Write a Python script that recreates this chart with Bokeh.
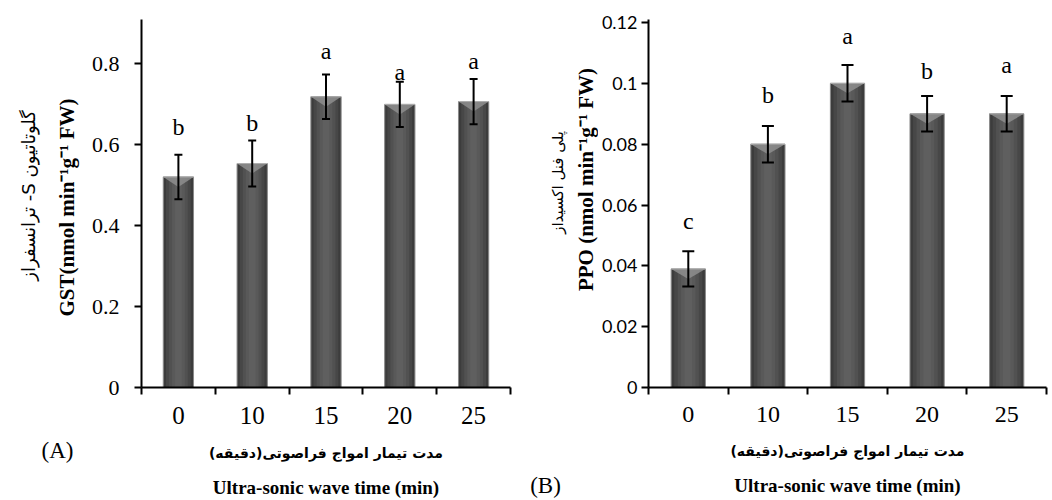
import math
from bokeh.plotting import figure
from bokeh.models import (ColumnDataSource, FixedTicker, LinearAxis, Range1d,
                          Whisker, TeeHead)
from bokeh.layouts import row
from bokeh.core.properties import value
from bokeh.embed import file_html
from bokeh.resources import INLINE

# ---------------- data ----------------
categories = ["0", "10", "15", "20", "25"]          # ultrasonic time (min)

gst = [0.520, 0.553, 0.718, 0.699, 0.706]
gst_err = [0.055, 0.057, 0.055, 0.056, 0.056]
gst_letters = ["b", "b", "a", "a", "a"]
gst_letter_y = [0.642, 0.654, 0.832, 0.778, 0.805]
gst_yticks = [0, 0.2, 0.4, 0.6, 0.8]
gst_ytick_labels = ["0", "0.2", "0.4", "0.6", "0.8"]

ppo = [0.039, 0.080, 0.100, 0.090, 0.090]
ppo_err = [0.0058, 0.006, 0.006, 0.0058, 0.0058]
ppo_letters = ["c", "b", "a", "b", "a"]
ppo_letter_y = [0.0549, 0.0963, 0.1157, 0.1039, 0.1059]
ppo_yticks = [0, 0.02, 0.04, 0.06, 0.08, 0.1, 0.12]
ppo_ytick_labels = ["0", "0.02", "0.04", "0.06", "0.08", "0.1", "0.12"]

x_title_fa = "مدت تیمار امواج فراصوتی(دقیقه)\u200f"
x_title_en = "Ultra-sonic wave time (min)"
gst_title_fa = "\u202bگلوتاتیون S- ترانسفراز\u202c"
gst_title_en = "GST(nmol min\u207b\u00b9g\u207b\u00b9 FW)"
ppo_title_fa = "پلی فنل اکسیداز"
ppo_title_en = "PPO (nmol min\u207b\u00b9g\u207b\u00b9 FW)"
panel_a = "(A)"
panel_b = "(B)"

SERIF = "Liberation Serif"
FA = "DejaVu Sans"
TOP = 19          # frame top (px) shared by all plots in the row
BOTTOM = 113      # space below the frames (px)
FRAME_BOTTOM = 500 - BOTTOM


def make_panel(vals, errs, letters, letter_y, y_end, yticks, ytick_labels,
               width, border_left, border_right,
               bar_w, head, ytick_font, ytick_size, ytick_standoff,
               xtick_size):
    n = len(categories)
    idx = list(range(n))
    bounds = [i - 0.5 for i in range(n + 1)]
    plot_h_px = FRAME_BOTTOM - TOP
    p = figure(width=width, height=500,
               x_range=Range1d(-0.5, n - 0.5), y_range=Range1d(0, y_end),
               output_backend="svg", toolbar_location=None,
               min_border_left=border_left, min_border_right=border_right,
               min_border_top=TOP, min_border_bottom=BOTTOM)
    p.grid.visible = False
    p.outline_line_color = None

    src = ColumnDataSource(dict(
        x=idx, top=vals,
        upper=[v + e for v, e in zip(vals, errs)],
        lower=[v - e for v, e in zip(vals, errs)],
        letter=letters, ly=letter_y))

    # bars with a soft horizontal gradient
    shades = [("#3c3c3c", 1.0), ("#474747", 0.82), ("#515151", 0.62),
              ("#595959", 0.42), ("#5f5f5f", 0.22)]
    for k, (c, f) in enumerate(shades):
        p.vbar(x="x", top="top", bottom=0, width=bar_w * f, source=src,
               fill_color=c,
               line_color="#8a8a8a" if k == 0 else None,
               line_width=1)
    # bevelled top
    d = 10 * y_end / plot_h_px
    xs = [[i - bar_w / 2, i + bar_w / 2, i] for i in idx]
    ys = [[v, v, v - d] for v in vals]
    p.patches(xs, ys, fill_color="#8e8e8e", fill_alpha=0.85, line_color=None)
    tops_x = [[i - bar_w / 2, i + bar_w / 2] for i in idx]
    tops_y = [[v, v] for v in vals]
    p.multi_line(tops_x, tops_y, line_color="#b0b0b0", line_width=1)

    wh = Whisker(source=src, base="x", upper="upper", lower="lower",
                 line_color="black", line_width=2, level="annotation",
                 upper_head=TeeHead(size=head, line_color="black", line_width=2),
                 lower_head=TeeHead(size=head, line_color="black", line_width=2))
    p.add_layout(wh)

    p.text(x="x", y="ly", text="letter", source=src,
           text_font=value(SERIF), text_font_size="24px",
           text_align="center", text_baseline="alphabetic", text_color="black")

    # x axis: category labels + Persian title
    ax = p.xaxis[0]
    ax.ticker = FixedTicker(ticks=idx, minor_ticks=bounds)
    ax.major_label_overrides = {i: lab for i, lab in zip(idx, categories)}
    ax.major_tick_out = 0
    ax.major_tick_in = 0
    ax.minor_tick_out = 7
    ax.minor_tick_in = 0
    ax.minor_tick_line_width = 2
    ax.minor_tick_line_color = "black"
    ax.axis_line_width = 2
    ax.axis_line_color = "black"
    ax.major_label_text_font = SERIF
    ax.major_label_text_font_size = xtick_size
    ax.major_label_text_color = "black"
    ax.major_label_standoff = 12
    ax.axis_label = x_title_fa
    ax.axis_label_text_font = FA
    ax.axis_label_text_font_style = "bold"
    ax.axis_label_text_font_size = "14px"
    ax.axis_label_text_color = "black"
    ax.axis_label_standoff = 18

    # second line of the x title
    ax2 = LinearAxis(ticker=FixedTicker(ticks=[]), axis_line_color=None,
                     major_tick_out=0, major_tick_in=0, minor_tick_out=0,
                     minor_tick_in=0, major_label_text_font_size="0px",
                     axis_label=x_title_en, axis_label_text_font=SERIF,
                     axis_label_text_font_style="bold",
                     axis_label_text_font_size="19px",
                     axis_label_text_color="black", axis_label_standoff=13)
    p.add_layout(ax2, "below")

    # y axis
    ay = p.yaxis[0]
    ay.ticker = FixedTicker(ticks=yticks, minor_ticks=[])
    ay.major_label_overrides = {t: lab for t, lab in zip(yticks, ytick_labels)}
    ay.major_tick_out = 7
    ay.major_tick_in = 0
    ay.major_tick_line_width = 2
    ay.major_tick_line_color = "black"
    ay.axis_line_width = 2
    ay.axis_line_color = "black"
    ay.major_label_text_font = ytick_font
    ay.major_label_text_font_size = ytick_size
    ay.major_label_text_color = "black"
    ay.major_label_standoff = ytick_standoff
    return p


def make_strip(width, fa_text, fa_size, fa_x, fa_y, en_text, en_x, en_y,
               tag, tag_x, tag_standoff):
    # narrow companion plot holding the y titles; data units = pixels
    s = figure(width=width, height=500, x_range=Range1d(0, width),
               y_range=Range1d(FRAME_BOTTOM, TOP), output_backend="svg",
               toolbar_location=None, y_axis_location=None,
               x_axis_location="below", min_border_left=0, min_border_right=0,
               min_border_top=TOP, min_border_bottom=BOTTOM)
    s.grid.visible = False
    s.outline_line_color = None
    s.text(x=[fa_x], y=[fa_y], text=[fa_text], angle=math.pi / 2,
           text_font=value(FA), text_font_size=fa_size, text_align="center",
           text_baseline="middle", text_color="black")
    s.text(x=[en_x], y=[en_y], text=[en_text], angle=math.pi / 2,
           text_font=value(SERIF), text_font_style="bold",
           text_font_size="21px", text_align="center",
           text_baseline="alphabetic", text_color="black")
    # panel tag as the strip's only tick label
    ax = s.xaxis[0]
    ax.ticker = FixedTicker(ticks=[tag_x], minor_ticks=[])
    ax.major_label_overrides = {tag_x: tag}
    ax.axis_line_color = None
    ax.major_tick_out = 0
    ax.major_tick_in = 0
    ax.minor_tick_out = 0
    ax.minor_tick_in = 0
    ax.major_label_text_font = SERIF
    ax.major_label_text_font_size = "23px"
    ax.major_label_text_color = "black"
    ax.major_label_standoff = tag_standoff
    return s


stripA = make_strip(80, gst_title_fa, "18px", 28, 195, gst_title_en, 66, 207,
                    panel_a, 57, 50)
pA = make_panel(gst, gst_err, gst_letters, gst_letter_y,
                (FRAME_BOTTOM - TOP) / 405, gst_yticks, gst_ytick_labels,
                440, 61, 10, 0.41, 8, SERIF, "22px", 15, "25px")
stripB = make_strip(78, ppo_title_fa, "15px", 37, 182, ppo_title_en, 65, 179,
                    panel_b, 25, 85)
pB = make_panel(ppo, ppo_err, ppo_letters, ppo_letter_y,
                0.12 * (FRAME_BOTTOM - TOP) / 365, ppo_yticks, ppo_ytick_labels,
                454, 50, 6, 0.43, 12, "Lato", "18px", 4, "24px")

layout = row(stripA, pA, stripB, pB)
open("out.html", "w").write(file_html(layout, INLINE))
